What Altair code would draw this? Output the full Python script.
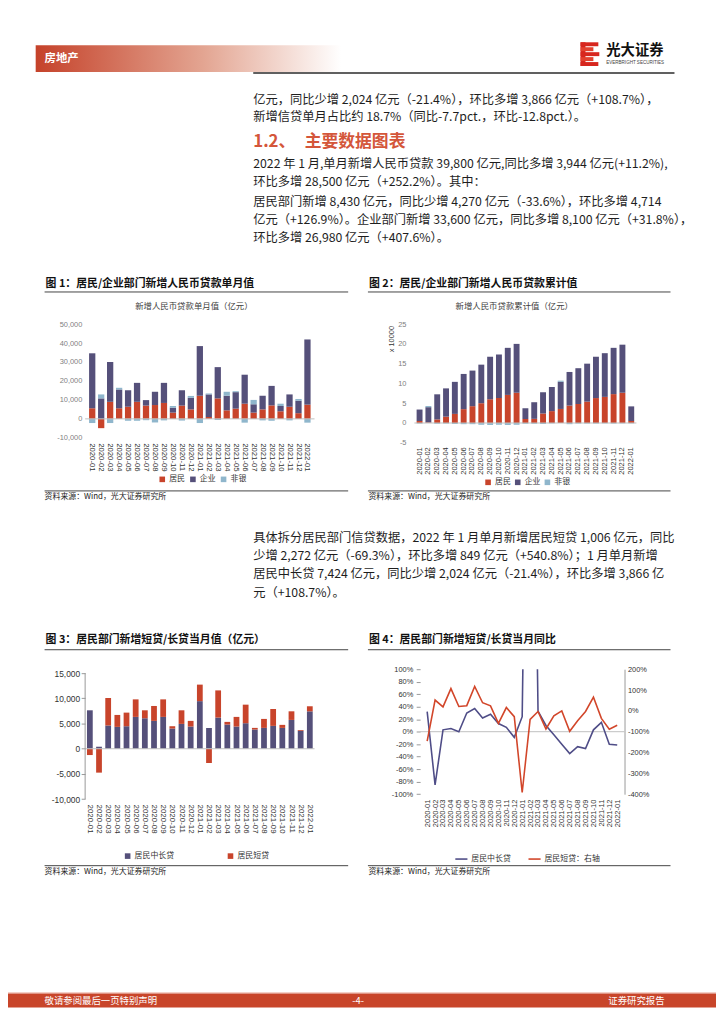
import altair as alt
import pandas as pd

# ---------------- data ----------------
months = ["2020-01", "2020-02", "2020-03", "2020-04", "2020-05", "2020-06", "2020-07",
          "2020-08", "2020-09", "2020-10", "2020-11", "2020-12", "2021-01", "2021-02",
          "2021-03", "2021-04", "2021-05", "2021-06", "2021-07", "2021-08", "2021-09",
          "2021-10", "2021-11", "2021-12", "2022-01"]

sector_names = ["居民", "企业", "非银"]
# 图1 单月值（亿元）
m_resident = [5600, -4900, 9000, 5600, 6400, 9000, 7000, 7300, 8400, 3300, 7000, 5000,
              12200, 1000, 10800, 4500, 5400, 8000, 3300, 5000, 7100, 4000, 6400, 3000, 7500]
m_corporate = [29000, 10800, 21000, 9900, 8700, 10000, 2900, 7000, 10600, 2600, 8100, 6100,
               26200, 11900, 16500, 7700, 8700, 15300, 4400, 7200, 10300, 2800, 6500, 6600, 34400]
m_nonbank = [-2200, 2100, -2200, 900, -1000, -1000, -700, -1900, -800, 900, -900, 1000,
             -2200, 500, -600, 2100, 500, -2000, 2300, -800, -1000, 1200, -800, 900, -2000]

# 图2 累计值（x10000 亿元）
c_resident = [0.5, 0.15, 0.9, 1.6, 2.3, 3.5, 4.25, 5.0, 6.0, 6.3, 7.1, 7.65,
              1.0, 1.05, 2.4, 3.0, 3.55, 4.4, 4.8, 5.4, 6.3, 6.6, 7.3, 7.65, 0.5]
c_corporate = [2.9, 3.85, 6.35, 7.15, 8.1, 8.9, 9.0, 9.75, 10.75, 11.0, 11.9, 12.35,
               2.75, 4.2, 5.4, 6.1, 6.85, 8.5, 9.05, 9.6, 10.45, 11.05, 11.7, 12.15, 3.7]
c_nonbank = [-0.15, 0.3, -0.2, -0.15, -0.25, -0.3, -0.3, -0.45, -0.5, -0.45, -0.5, -0.45,
             -0.2, -0.2, -0.25, -0.1, 0.3, -0.3, -0.15, -0.15, -0.15, -0.1, -0.15, -0.1, -0.1]

# 图3 居民短贷/中长贷当月值（亿元）
hh_names = ["居民中长贷", "居民短贷"]
hh_long = [7630, 400, 4600, 4340, 4470, 6320, 6050, 5530, 6320, 4010, 4930, 4410,
           9448, 4140, 6180, 4800, 4410, 5070, 3820, 4140, 4540, 4140, 5720, 3558, 7424]
hh_short = [-1250, -4740, 5470, 2370, 2700, 3480, 1580, 2960, 3480, 460, 2700, 1120,
            3278, -2830, 5400, 530, 1910, 3680, 320, 1780, 3350, 600, 1710, 157, 1006]

# 图4 同比
yoy_names = ["居民中长贷", "居民短贷：右轴"]
yoy_long = [0.32, -0.85, 0.03, 0.05, 0.0, 0.30, 0.37, 0.22, 0.28, 0.13, 0.07, -0.09,
            0.24, 9.35, 0.33, 0.10, -0.05, -0.20, -0.35, -0.24, -0.27, 0.03, 0.15, -0.20, -0.214]
yoy_short = [-1.45, 0.52, 0.19, 1.07, 0.21, 0.25, 1.17, 0.39, 0.24, -0.60, 0.16, -0.28,
             -3.92, -0.41, -0.03, -0.87, -0.24, 0.0, -0.98, -0.47, -0.03, 0.66, -0.36, -0.88, -0.693]

# ---------------- style ----------------
CJK = "Noto Sans CJK SC"
LAT = "Liberation Sans"
RED = "#C8442B"
PURPLE = "#55507A"
LBLUE = "#8FB6CC"
LINE_BLUE = "#4F4D87"
LINE_RED = "#D2462A"
HEAD_RED = "#D4563A"
TXT = "#1e1e1e"
BODY = 12.4
BLANK = alt.Data(values=[{"k": 0}])
NUM_LABEL = "replace(format(datum.value, ',.0f'), '\u2212', '-')"
PCT_LABEL = "replace(format(datum.value, '.0%'), '\u2212', '-')"


def txt(s, x, y, size=BODY, color=TXT, weight="normal", align="left", font=CJK):
    return alt.Chart(BLANK).mark_text(text=s, fontSize=size, color=color, fontWeight=weight,
                                      align=align, baseline="middle", font=font).encode(
        x=alt.value(x), y=alt.value(y))


def hline(x1, x2, y, color="#333333", w=1.0):
    return alt.Chart(BLANK).mark_rule(color=color, strokeWidth=w).encode(
        x=alt.value(x1), x2=alt.value(x2), y=alt.value(y))


def box(x1, x2, y1, y2, color):
    return alt.Chart(BLANK).mark_rect(color=color).encode(
        x=alt.value(x1), x2=alt.value(x2), y=alt.value(y1), y2=alt.value(y2))


def blank(w=1, h=1):
    return alt.Chart(BLANK).mark_rect(opacity=0).encode(
        x=alt.value(0), x2=alt.value(1), y=alt.value(0), y2=alt.value(1)
    ).properties(width=w, height=h)


def long_df(names, series):
    rows = []
    for k, (n, vals) in enumerate(zip(names, series)):
        for m, v in zip(months, vals):
            rows.append({"month": m, "cat": n, "value": v, "ord": k})
    return pd.DataFrame(rows)


# grid columns (page x): 8 -> 86 -> 318 -> 418.5 -> 643
COL0, COL1, COL2, COL3 = 78, 232, 100.5, 224.5

# ---------------- row 1: header + text ----------------
band = alt.Chart(BLANK).mark_rect(
    color=alt.LinearGradient(gradient="linear",
                             stops=[alt.GradientStop(color="#C5422A", offset=0),
                                    alt.GradientStop(color="#E3A592", offset=0.55),
                                    alt.GradientStop(color="#FFFFFF", offset=1)],
                             x1=0, x2=1, y1=0, y2=0)
).encode(x=alt.value(28), x2=alt.value(337), y=alt.value(32), y2=alt.value(59))

logo = [
    box(579, 584, 29, 53, "#D7261E"),
    box(579, 597, 29, 33, "#D7261E"),
    box(579, 592, 34, 38, "#E2412F"),
    box(579, 598, 39, 43, "#D7261E"),
    box(579, 592, 44, 48, "#E2412F"),
    box(579, 597, 49, 53, "#D7261E"),
]

para1 = ["亿元，同比少增 2,024 亿元（-21.4%），环比多增 3,866 亿元（+108.7%），",
         "新增信贷单月占比约 18.7%（同比-7.7pct.，环比-12.8pct.）。"]
para2 = ["2022 年 1 月,单月新增人民币贷款 39,800 亿元,同比多增 3,944 亿元(+11.2%),",
         "环比多增 28,500 亿元（+252.2%）。其中："]
para3 = ["居民部门新增 8,430 亿元，同比少增 4,270 亿元（-33.6%），环比多增 4,714",
         "亿元（+126.9%）。企业部门新增 33,600 亿元，同比多增 8,100 亿元（+31.8%），",
         "环比多增 26,980 亿元（+407.6%）。"]

row1_layers = [band, txt("房地产", 37, 45.5, 11.5, "white", "bold")] + logo + [
    txt("光大证券", 605, 38, 14.5, "#111111", "bold"),
    txt("EVERBRIGHT SECURITIES", 605, 49.5, 4.6, "#444444", "normal", font=LAT),
    hline(248, 674, 60, "#2b2b2b", 1.5),
]
for i, s in enumerate(para1):
    row1_layers.append(txt(s, 248, 87 + 18 * i))
row1_layers += [txt("1.2、", 248, 130, 17, HEAD_RED, "bold"),
                txt("主要数据图表", 300, 130, 17, HEAD_RED, "bold")]
for i, s in enumerate(para2):
    row1_layers.append(txt(s, 248, 152 + 18 * i))
for i, s in enumerate(para3):
    row1_layers.append(txt(s, 248, 191 + 18 * i))
row1_layers += [
    txt("图 1：居民/企业部门新增人民币贷款单月值", 38, 273.5, 11, "#111111", "bold"),
    txt("图 2：居民/企业部门新增人民币贷款累计值", 365, 273.5, 11, "#111111", "bold"),
    hline(37, 344, 281.5, "#444444", 1),
    hline(364, 670, 281.5, "#444444", 1),
    txt("新增人民币贷款单月值（亿元）", 188, 295.5, 8.5, "#404040", align="center"),
    txt("新增人民币贷款累计值（亿元）", 512, 295.5, 8.5, "#404040", align="center"),
]
row1 = alt.layer(*row1_layers).properties(width=COL0, height=313.3)

# ---------------- chart 1 ----------------
df1 = long_df(sector_names, [m_resident, m_corporate, m_nonbank])
y1_scale = alt.Scale(domain=[-10000, 50000], nice=False)
y1_axis = alt.Axis(title=None, values=[-10000, 0, 10000, 20000, 30000, 40000, 50000],
                   labelExpr=NUM_LABEL, domain=False, ticks=False, grid=False, labelFont=LAT,
                   labelFontSize=7.5, labelColor="#808080", labelPadding=3.3, labelOverlap=False)
bars1 = alt.Chart(df1).mark_bar().encode(
    x=alt.X("month:N", sort=months, scale=alt.Scale(paddingInner=0.3, paddingOuter=0.44),
            axis=alt.Axis(title=None, labelAngle=90, domain=False, ticks=False, labelFont=LAT,
                          labelFontSize=7.8, labelColor="#333333", labelPadding=5)),
    y=alt.Y("value:Q", stack="zero", scale=y1_scale, axis=y1_axis),
    color=alt.Color("cat:N", scale=alt.Scale(domain=sector_names, range=[RED, PURPLE, LBLUE]),
                    legend=alt.Legend(orient="none", legendX=74, legendY=153, direction="horizontal",
                                      columns=3, title=None, symbolType="square", symbolSize=32,
                                      symbolStrokeWidth=0, labelFont=CJK, labelFontSize=8,
                                      labelColor="#333333", labelOffset=3, columnPadding=4)),
    order=alt.Order("ord:Q", sort="ascending"),
)
zero1 = alt.Chart(BLANK).mark_rule(color="#BFBFBF", strokeWidth=1).encode(
    y=alt.YDatum(0, scale=y1_scale, axis=y1_axis))
chart1 = alt.layer(bars1, zero1).properties(width=COL1, height=115)

# ---------------- chart 2 ----------------
df2 = long_df(sector_names, [c_resident, c_corporate, c_nonbank])
y2_scale = alt.Scale(domain=[-5, 25], nice=False)
y2_axis = alt.Axis(title="x 10000", values=[-5, 0, 5, 10, 15, 20, 25], labelExpr=NUM_LABEL,
                   domain=False, ticks=False, grid=False, labelFont=LAT, labelFontSize=7.5,
                   labelColor="#808080", labelPadding=8.5, titleFont=LAT,
                   titleFontSize=7.5, titleFontWeight="normal", titleColor="#333333",
                   titleX=-22.8, titleY=14.7, titleAlign="center", titleBaseline="middle",
                   labelOverlap=False)
bars2 = alt.Chart(df2).mark_bar().encode(
    x=alt.X("month:N", sort=months, scale=alt.Scale(paddingInner=0.33, paddingOuter=0.25),
            axis=alt.Axis(title=None, labelAngle=-90, domain=False, ticks=False, labelFont=LAT,
                          labelFontSize=7.6, labelColor="#333333", labelPadding=4)),
    y=alt.Y("value:Q", stack="zero", scale=y2_scale, axis=y2_axis),
    color=alt.Color("cat:N", scale=alt.Scale(domain=sector_names, range=[RED, PURPLE, LBLUE]),
                    legend=alt.Legend(orient="none", legendX=70.5, legendY=156, direction="horizontal",
                                      columns=3, title=None, symbolType="square", symbolSize=32,
                                      symbolStrokeWidth=0, labelFont=CJK, labelFontSize=8,
                                      labelColor="#333333", labelOffset=3, columnPadding=3)),
    order=alt.Order("ord:Q", sort="ascending"),
)
zero2 = alt.Chart(BLANK).mark_rule(color="#BFBFBF", strokeWidth=1).encode(
    y=alt.YDatum(0, scale=y2_scale, axis=y2_axis))
chart2 = alt.layer(bars2, zero2).properties(width=COL3, height=120)

# ---------------- row 3 text ----------------
para4 = ["具体拆分居民部门信贷数据，2022 年 1 月单月新增居民短贷 1,006 亿元，同比",
         "少增 2,272 亿元（-69.3%），环比多增 849 亿元（+540.8%）；1 月单月新增",
         "居民中长贷 7,424 亿元，同比少增 2,024 亿元（-21.4%），环比多增 3,866 亿",
         "元（+108.7%）。"]
src = "资料来源：Wind，光大证券研究所"
row3_layers = [
    hline(37, 344, 48.7, "#444444", 1),
    hline(364, 670, 48.7, "#444444", 1),
    txt(src, 37, 55, 8, "#222222"),
    txt(src, 364.5, 55, 8, "#222222"),
]
for i, s in enumerate(para4):
    row3_layers.append(txt(s, 248, 96 + 18.5 * i))
row3_layers += [
    txt("图 3：居民部门新增短贷/长贷当月值（亿元）", 38, 199.5, 11, "#111111", "bold"),
    txt("图 4：居民部门新增短贷/长贷当月同比", 365, 199.5, 11, "#111111", "bold"),
    hline(37, 344, 209.3, "#444444", 1),
    hline(364, 670, 209.3, "#444444", 1),
]
row3 = alt.layer(*row3_layers).properties(width=COL0, height=229)

# ---------------- chart 3 ----------------
df3 = long_df(hh_names, [hh_long, hh_short])
y3_scale = alt.Scale(domain=[-10000, 15785], nice=False)
y3_axis = alt.Axis(title=None, values=[-10000, -5000, 0, 5000, 10000, 15000], labelExpr=NUM_LABEL,
                   domain=False, ticks=True, tickSize=4, tickColor="#999999", grid=False,
                   labelFont=LAT, labelFontSize=8.5, labelColor="#333333", labelPadding=1.5,
                   labelOverlap=False)
bars3 = alt.Chart(df3).mark_bar().encode(
    x=alt.X("month:N", sort=months, scale=alt.Scale(paddingInner=0.37, paddingOuter=0.2),
            axis=alt.Axis(title=None, labelAngle=90, domain=False, ticks=False, labelFont=LAT,
                          labelFontSize=8, labelColor="#333333", labelPadding=5)),
    y=alt.Y("value:Q", stack="zero", scale=y3_scale, axis=y3_axis),
    color=alt.Color("cat:N", scale=alt.Scale(domain=hh_names, range=[PURPLE, RED]),
                    legend=alt.Legend(orient="none", legendX=39, legendY=185, direction="horizontal",
                                      columns=2, title=None, symbolType="square", symbolSize=32,
                                      symbolStrokeWidth=0, labelFont=CJK, labelFontSize=8,
                                      labelColor="#333333", labelOffset=3, columnPadding=53)),
    order=alt.Order("ord:Q", sort="ascending"),
)
zero3 = alt.Chart(BLANK).mark_rule(color="#BFBFBF", strokeWidth=1).encode(
    y=alt.YDatum(0, scale=y3_scale, axis=y3_axis))
vaxis3 = alt.Chart(BLANK).mark_rule(color="#999999", strokeWidth=1).encode(
    x=alt.value(0), y=alt.YDatum(-10000, scale=y3_scale, axis=y3_axis), y2=alt.Y2Datum(15000))
chart3 = alt.layer(bars3, zero3, vaxis3).properties(width=COL1, height=131.4)

# ---------------- chart 4 ----------------
df4a = pd.DataFrame({"month": months, "value": yoy_long, "cat": yoy_names[0]})
df4b = pd.DataFrame({"month": months, "value": yoy_short, "cat": yoy_names[1]})
x4 = alt.X("month:N", sort=months, scale=alt.Scale(type="point", range=[8.9, 209.1]),
           axis=alt.Axis(title=None, labelAngle=-90, domain=False, ticks=False, labelFont=LAT,
                         labelFontSize=7.6, labelColor="#333333", labelPadding=5))
color4 = alt.Color("cat:N", scale=alt.Scale(domain=yoy_names, range=[LINE_BLUE, LINE_RED]),
                   legend=alt.Legend(orient="none", legendX=40.5, legendY=185, direction="horizontal",
                                     columns=2, title=None, symbolType="stroke", symbolSize=150,
                                     symbolStrokeWidth=1.6, labelFont=CJK, labelFontSize=8,
                                     labelColor="#333333", labelOffset=3, columnPadding=14))
y4l_scale = alt.Scale(domain=[-1, 1], nice=False)
y4l_axis = alt.Axis(title=None, orient="left", offset=-5.8,
                    values=[-1, -0.8, -0.6, -0.4, -0.2, 0, 0.2, 0.4, 0.6, 0.8, 1],
                    labelExpr=PCT_LABEL, domain=False, ticks=True, tickSize=4, tickColor="#999999",
                    grid=False, labelFont=LAT, labelFontSize=7.5, labelColor="#333333",
                    labelPadding=3.5, labelOverlap=False)
line_a = alt.Chart(df4a).mark_line(strokeWidth=1.6, clip=True).encode(
    x=x4, y=alt.Y("value:Q", scale=y4l_scale, axis=y4l_axis), color=color4)
zero4 = alt.Chart(BLANK).mark_rule(color="#BFBFBF", strokeWidth=1).encode(
    x=alt.value(5.8), x2=alt.value(212.5), y=alt.YDatum(0, scale=y4l_scale, axis=y4l_axis))
left4 = alt.layer(zero4, line_a)
line_b = alt.Chart(df4b).mark_line(strokeWidth=1.6, clip=True).encode(
    x=x4,
    y=alt.Y("value:Q", scale=alt.Scale(domain=[-4, 2], nice=False),
            axis=alt.Axis(title=None, orient="right", offset=-12, values=[-4, -3, -2, -1, 0, 1, 2],
                          labelExpr=PCT_LABEL, domain=True, domainColor="#999999", ticks=False,
                          grid=False, labelFont=LAT, labelFontSize=7.5, labelColor="#333333",
                          labelPadding=3, labelOverlap=False)),
    color=color4,
)
chart4 = alt.layer(left4, line_b).resolve_scale(y="independent").properties(width=COL3, height=126.4)

# ---------------- row 5 ----------------
row5_layers = [
    hline(37, 344, 66.7, "#444444", 1),
    hline(364, 670, 66.7, "#444444", 1),
    txt(src, 37, 73, 8, "#222222"),
    txt(src, 364.5, 73, 8, "#222222"),
    box(0, 716, 195, 195.8, "#E8A090"),
    box(0, 716, 196, 210, "#C8452A"),
    txt("敬请参阅最后一页特别声明", 37, 203.5, 9.5, "white"),
    txt("-4-", 354, 203.5, 9.5, "white", align="center"),
    txt("证券研究报告", 664, 203.5, 9.5, "white", align="right"),
]
row5 = alt.layer(*row5_layers).properties(width=COL0, height=210)

cells = [
    row1, blank(), blank(), blank(),
    blank(COL0, 1), chart1, blank(COL2, 1), chart2,
    row3, blank(), blank(), blank(),
    blank(COL0, 1), chart3, blank(COL2, 1), chart4,
    row5, blank(), blank(), blank(),
]

chart = alt.concat(
    *cells, columns=4, spacing=0, bounds="flush", align="each",
).resolve_scale(color="independent").resolve_legend(color="independent").properties(
    padding=0
).configure_view(strokeWidth=0)

chart.save("out.html", embed_options={"renderer": "svg", "actions": False})
